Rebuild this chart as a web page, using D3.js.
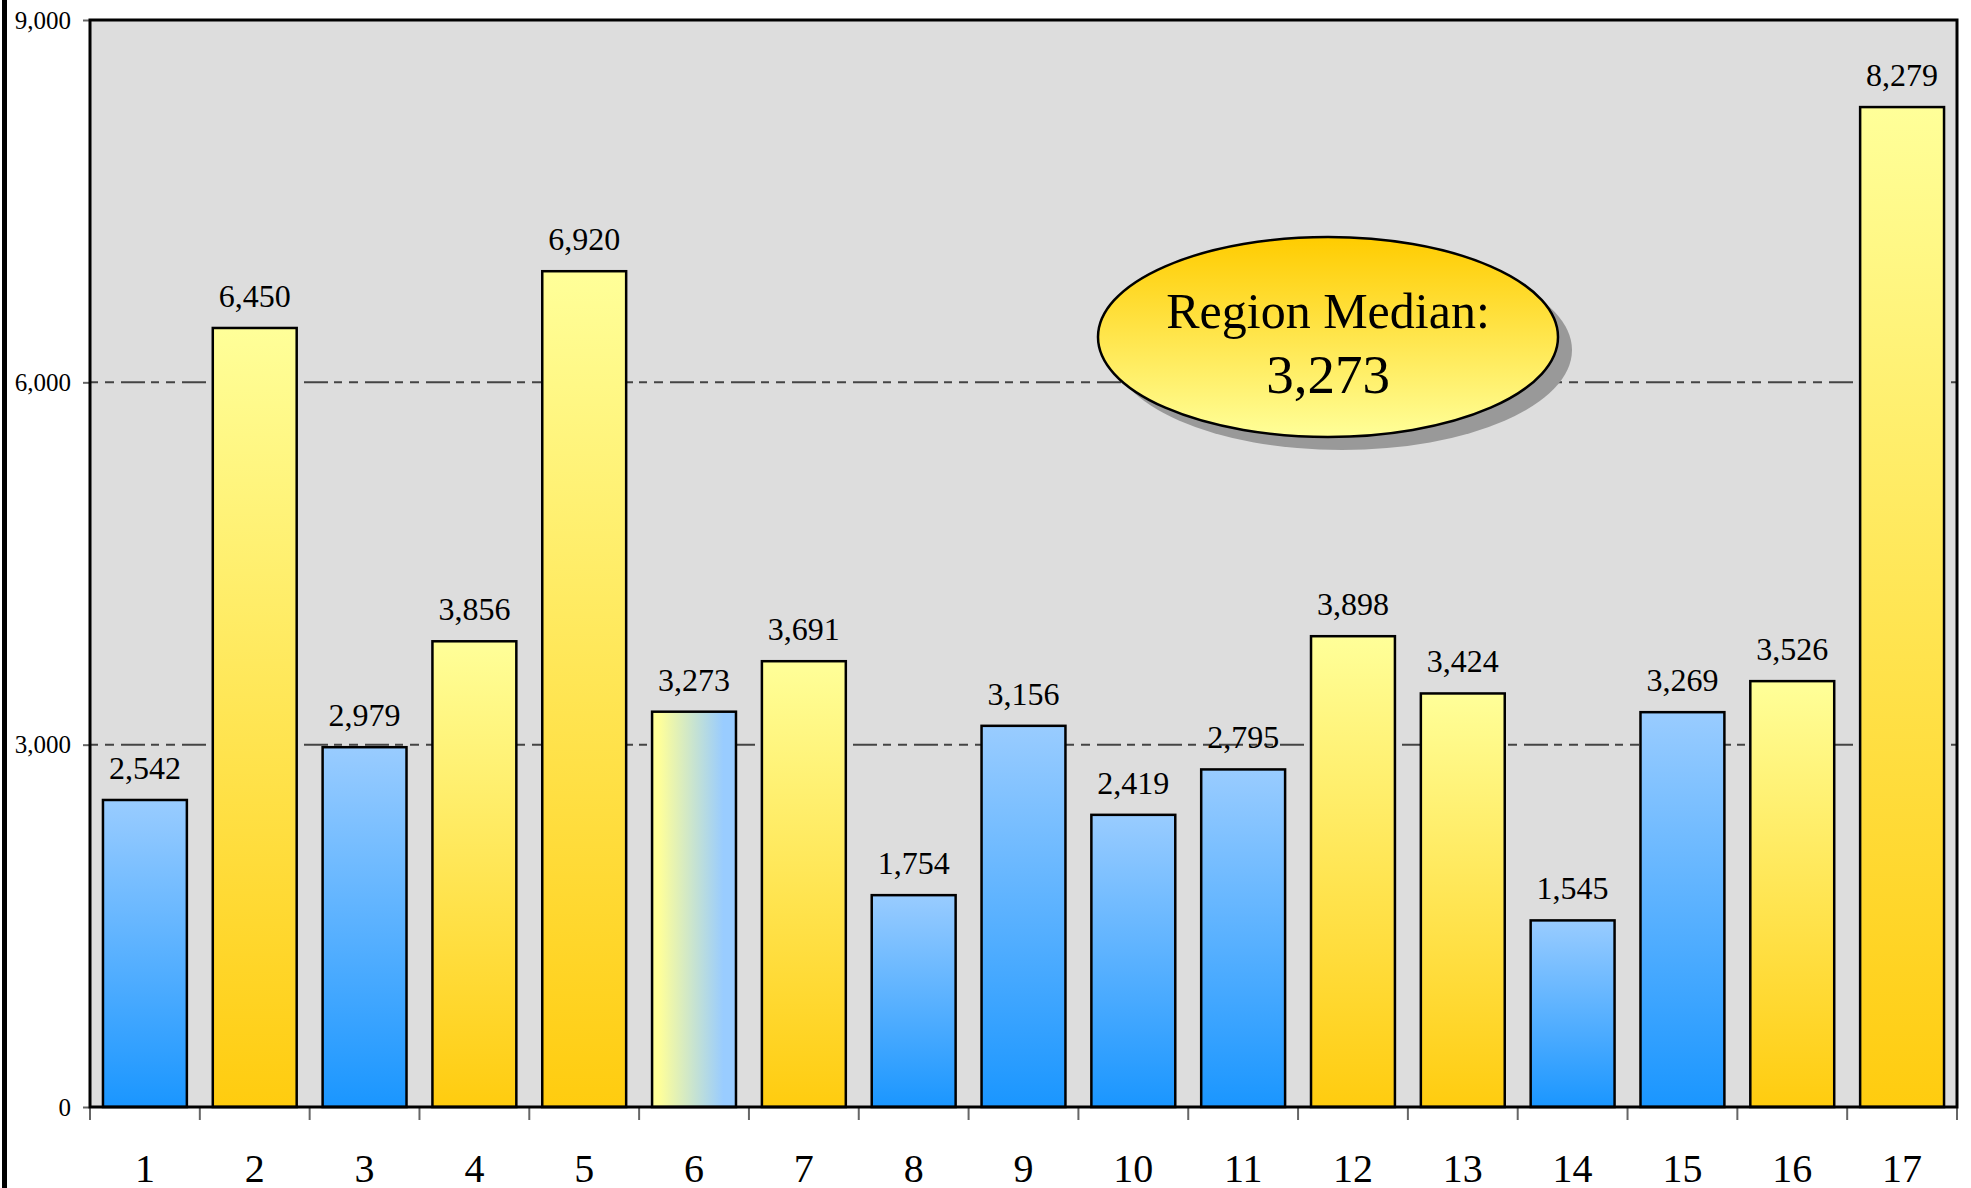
<!DOCTYPE html>
<html>
<head>
<meta charset="utf-8">
<script src="https://cdn.jsdelivr.net/npm/d3@7"></script>
<style>
  body{margin:0;background:#fff;}
  text{font-family:"Liberation Serif","Times New Roman",serif;fill:#000;}
</style>
</head>
<body>
<div class="chart"></div>
<script>
// chart data
const regions = ["1","2","3","4","5","6","7","8","9","10","11","12","13","14","15","16","17"];
const values = [2542,6450,2979,3856,6920,3273,3691,1754,3156,2419,2795,3898,3424,1545,3269,3526,8279];
const yTicks = [0,3000,6000,9000];
const medianLabel = "Region Median:";
const regionMedian = 3273;

const width = 1971, height = 1188;
const plot = {left:90, right:1957, top:20, bottom:1107};

const svg = d3.select(".chart").append("svg").attr("width",width).attr("height",height);
const defs = svg.append("defs");

// gradients
const yellowGrad = defs.append("linearGradient").attr("id","yellow").attr("x1",0).attr("y1",0).attr("x2",0).attr("y2",1);
yellowGrad.append("stop").attr("offset","0%").attr("stop-color","#ffff99");
yellowGrad.append("stop").attr("offset","100%").attr("stop-color","#ffcc0f");
const blueGrad = defs.append("linearGradient").attr("id","blue").attr("x1",0).attr("y1",0).attr("x2",0).attr("y2",1);
blueGrad.append("stop").attr("offset","0%").attr("stop-color","#99ccff");
blueGrad.append("stop").attr("offset","100%").attr("stop-color","#1a96ff");
const midGrad = defs.append("linearGradient").attr("id","mid").attr("x1",0).attr("y1",0).attr("x2",1).attr("y2",0);
midGrad.append("stop").attr("offset","8%").attr("stop-color","#ffff99");
midGrad.append("stop").attr("offset","85%").attr("stop-color","#99ccff");
const ellGrad = defs.append("linearGradient").attr("id","ell").attr("x1",0).attr("y1",0).attr("x2",0).attr("y2",1);
ellGrad.append("stop").attr("offset","0%").attr("stop-color","#ffcc00");
ellGrad.append("stop").attr("offset","100%").attr("stop-color","#ffff99");

// left frame line
svg.append("rect").attr("x",2).attr("y",0).attr("width",5).attr("height",height).attr("fill","#000");

const x = d3.scaleBand().domain(regions).range([plot.left,plot.right]).paddingInner(0.236).paddingOuter(0.118);
const y = d3.scaleLinear().domain([0,9000]).range([plot.bottom,plot.top]);

// plot background
svg.append("rect").attr("x",plot.left).attr("y",plot.top)
   .attr("width",plot.right-plot.left).attr("height",plot.bottom-plot.top)
   .attr("fill","#dddddd");

// grid lines
svg.append("g").selectAll("line")
   .data(yTicks.filter(d=>d>0 && d<9000))
   .join("line")
   .attr("x1",plot.left).attr("x2",plot.right)
   .attr("y1",d=>y(d)).attr("y2",d=>y(d))
   .attr("stroke","#444").attr("stroke-width",2)
   .attr("stroke-dasharray","8,7,9,7,24,6");

// y axis
const yAxis = svg.append("g").attr("transform",`translate(${plot.left},0)`)
   .call(d3.axisLeft(y).tickValues(yTicks).tickFormat(d3.format(",")).tickSize(7).tickPadding(12));
yAxis.select(".domain").remove();
yAxis.selectAll(".tick line").attr("stroke","#666").attr("stroke-width",2);
yAxis.selectAll(".tick text").style("font-family","Liberation Serif").style("font-size","25px").attr("fill","#000");

// x ticks on band boundaries
const step = x.step();
const bounds = regions.map(r=>x(r)-x.paddingInner()*step/2).concat([plot.right]);
svg.append("g").selectAll("line")
   .data(bounds)
   .join("line")
   .attr("x1",d=>d).attr("x2",d=>d)
   .attr("y1",plot.bottom).attr("y2",plot.bottom+13)
   .attr("stroke","#666").attr("stroke-width",2);

// x labels
svg.append("g").selectAll("text")
   .data(regions)
   .join("text")
   .attr("x",d=>x(d)+x.bandwidth()/2)
   .attr("y",1182)
   .attr("text-anchor","middle")
   .style("font-size","40px")
   .text(d=>d);

// bars
const fillFor = v => v === regionMedian ? "url(#mid)" : (v > regionMedian ? "url(#yellow)" : "url(#blue)");
svg.append("g").selectAll("rect")
   .data(values)
   .join("rect")
   .attr("x",(d,i)=>x(regions[i]))
   .attr("y",d=>y(d))
   .attr("width",x.bandwidth())
   .attr("height",d=>y(0)-y(d))
   .attr("fill",d=>fillFor(d))
   .attr("stroke","#000").attr("stroke-width",2.5);

// value labels
svg.append("g").selectAll("text")
   .data(values)
   .join("text")
   .attr("x",(d,i)=>x(regions[i])+x.bandwidth()/2)
   .attr("y",d=>y(d)-21)
   .attr("text-anchor","middle")
   .style("font-size","32px")
   .text(d=>d3.format(",")(d));

// plot border
svg.append("rect").attr("x",plot.left).attr("y",plot.top)
   .attr("width",plot.right-plot.left).attr("height",plot.bottom-plot.top)
   .attr("fill","none").attr("stroke","#000").attr("stroke-width",3);

// median callout
const cx = 1328, cy = 337;
svg.append("ellipse").attr("cx",cx+14).attr("cy",cy+13).attr("rx",230).attr("ry",100).attr("fill","#999");
svg.append("ellipse").attr("cx",cx).attr("cy",cy).attr("rx",230).attr("ry",100)
   .attr("fill","url(#ell)").attr("stroke","#000").attr("stroke-width",2.5);
svg.append("text").attr("x",cx).attr("y",328).attr("text-anchor","middle")
   .style("font-size","50px").text(medianLabel);
svg.append("text").attr("x",cx).attr("y",393).attr("text-anchor","middle")
   .style("font-size","55px").text(d3.format(",")(regionMedian));
</script>
</body>
</html>
